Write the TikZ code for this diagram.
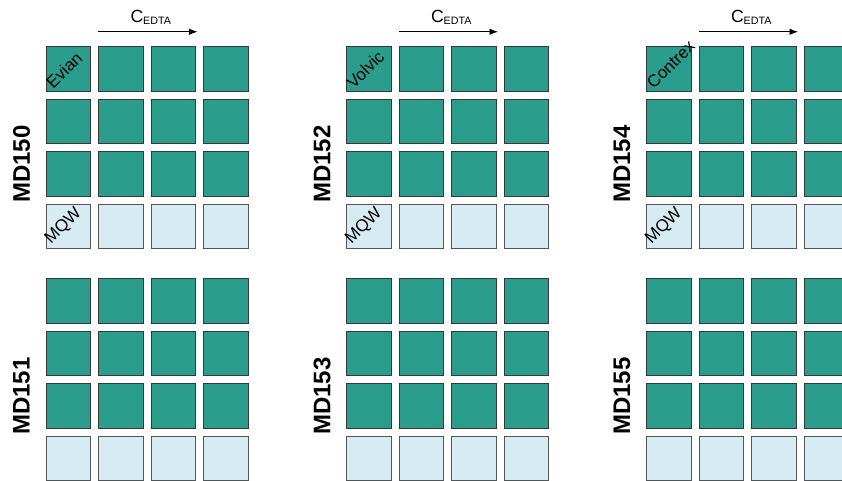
\documentclass[tikz,border=0pt]{standalone}
\usepackage{fontspec}
\setmainfont{Liberation Sans}
\usetikzlibrary{arrows.meta,calc}

\definecolor{wellteal}{RGB}{42,157,140}
\definecolor{wellblue}{RGB}{214,235,242}
\definecolor{wellrim}{RGB}{55,55,55}

\tikzset{
  every node/.style={font=\fontsize{17}{20}\selectfont},
  well/.style={draw=wellrim, line width=1pt, minimum size=44.5pt, inner sep=0pt, fill=wellteal},
  blank/.style={well, fill=wellblue, draw=wellrim!85},
  tag/.style={rotate=45, anchor=south west, inner sep=0pt},
  sample/.style={rotate=90, inner sep=0pt, font=\fontsize{24}{28}\selectfont\bfseries},
  cflow/.style={-{Latex[length=8.5pt,width=6.5pt]}, line width=0.9pt},
}

\begin{document}
\begin{tikzpicture}[x=1pt, y=-1pt]
  \useasboundingbox (0,0) rectangle (842,481);
  \clip (0,0) rectangle (842,481);

  \foreach \g/\gx/\first in {0/0/Evian, 1/300.5/Volvic, 2/600.5/Contrex} {
    \foreach \b/\by in {0/0, 1/232} {
      \pgfmathtruncatemacro\num{150+2*\g+\b}
      \node[sample] (md-\g-\b) at (21.5+\gx, 164+\by) {MD\num};
      \foreach \r in {0,...,3} {
        \foreach \c in {0,...,3} {
          \ifnum\r<3 \def\kind{well}\else\def\kind{blank}\fi
          \node[\kind] (w-\g-\b-\r-\c) at (68.25+52.5*\c+\gx, 69.2+52.5*\r+\by) {};
        }
      }
    }
    % sample names in the corner wells
    \node[tag] (src-\g) at ([xshift=8pt, yshift=2pt]w-\g-0-0-0.south west) {\first};
    \node[tag] (mqw-\g) at ([xshift=8pt, yshift=2pt]w-\g-0-3-0.south west) {MQW};

    % concentration arrow
    \coordinate (cs-\g) at ([yshift=14.7pt]w-\g-0-0-1.north west);
    \coordinate (ce-\g) at ([xshift=1.5pt, yshift=14.7pt]w-\g-0-0-2.north east);
    \draw[cflow] (cs-\g) -- (ce-\g);
    \node[anchor=base, inner sep=0pt, font=\fontsize{17.6}{20}\selectfont] (cedta-\g)
      at ([xshift=3pt, yshift=9.3pt]$(cs-\g)!0.5!(ce-\g)$)
      {C\raisebox{-2.3pt}{\fontsize{10.7}{12}\selectfont EDTA}};
  }
\end{tikzpicture}
\end{document}
